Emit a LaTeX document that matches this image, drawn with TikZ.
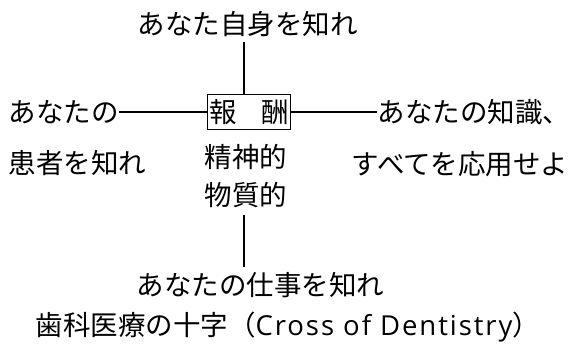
\documentclass[tikz,border=0pt]{standalone}
\usepackage{fontspec}
\setmainfont{Noto Sans CJK JP}
\newfontfamily\latinfont[LetterSpace=7]{Open Sans}
\usepackage{tikz}
\usetikzlibrary{positioning}

\begin{document}
\begin{tikzpicture}[x=1pt,y=-1pt,line width=1.2pt,
    lbl/.style={font=\fontsize{27.5}{30}\selectfont,inner sep=0pt},
    reward/.style={lbl,draw,inner xsep=2pt,inner ysep=5pt}]
  \useasboundingbox (0,0) rectangle (572,347);
  \node[reward] (rew) at (249,112) {報\hspace{0.9em}酬};
  \node[lbl,anchor=west] (self) at (137,24) {あなた自身を知れ};
  \node[lbl,anchor=west] (pat) at (8,112) {あなたの};
  \node[lbl,anchor=west] (pat2) at (8,163) {患者を知れ};
  \node[lbl,anchor=west] (know) at (377,112) {あなたの知識、};
  \node[lbl,anchor=west] (know2) at (351,164) {すべてを応用せよ};
  \node[lbl] (mind) at (246,157) {精神的};
  \node[lbl] (matter) at (246,195) {物質的};
  \node[lbl,anchor=west] (work) at (136,285) {あなたの仕事を知れ};
  \node[lbl,anchor=west] (cap) at (35,327) {歯科医療の十字（{\latinfont Cross of Dentistry}）};
  \draw[shorten <=5pt] (self.south -| 244,0) -- (rew.north -| 244,0);
  \draw[shorten <=7pt,shorten >=5pt] (matter.south -| 244,0) -- (work.north -| 244,0);
  \draw (pat.east |- rew) -- (rew.west);
  \draw (rew.east) -- (know.west |- rew);
\end{tikzpicture}
\end{document}
